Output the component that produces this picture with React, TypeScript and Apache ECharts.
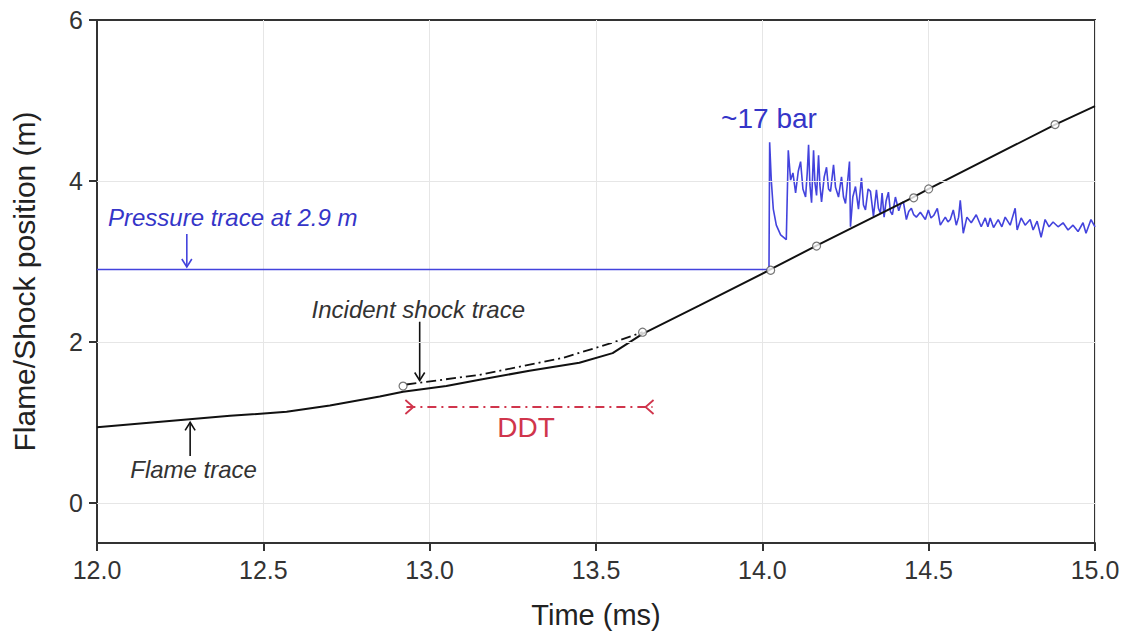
import React, { useEffect, useRef } from "react";
import * as echarts from "echarts";

const xTicks = [12.0, 12.5, 13.0, 13.5, 14.0, 14.5, 15.0];
const yTickValues = [0, 2, 4, 6];
const yGridValues = [0, 2, 4];

const flameTrace: number[][] = [
  [12.0, 0.94], [12.2, 1.01], [12.4, 1.08], [12.57, 1.13], [12.7, 1.21],
  [12.85, 1.32], [12.92, 1.38], [13.05, 1.45], [13.15, 1.53], [13.3, 1.64],
  [13.45, 1.74], [13.55, 1.86], [13.64, 2.1], [13.81, 2.45], [14.02, 2.89],
  [14.16, 3.19], [14.45, 3.79], [14.5, 3.9], [14.88, 4.7], [15.0, 4.93],
];

const shockTrace: number[][] = [
  [12.93, 1.47], [13.15, 1.59], [13.4, 1.8], [13.55, 1.99], [13.64, 2.12],
];

const sensorPoints: number[][] = [
  [12.92, 1.45], [13.64, 2.12], [14.025, 2.89], [14.163, 3.19],
  [14.455, 3.79], [14.5, 3.9], [14.88, 4.7],
];

const pressureTrace: number[][] = [
  [12.0, 2.9], [14.02, 2.9], [14.022, 4.48], [14.027, 4.0], [14.033, 3.65],
  [14.042, 3.45], [14.055, 3.33], [14.072, 3.27], [14.078, 4.38], [14.085, 4.01],
  [14.092, 4.1], [14.1, 3.85], [14.108, 4.12], [14.115, 4.24], [14.122, 3.9],
  [14.13, 3.8], [14.135, 4.1], [14.139, 4.45], [14.143, 3.95], [14.148, 3.73],
  [14.154, 4.38], [14.158, 3.98], [14.163, 3.82], [14.169, 4.32], [14.173, 3.95],
  [14.178, 3.74], [14.186, 4.05], [14.193, 4.17], [14.199, 3.9], [14.205, 3.87],
  [14.214, 4.2], [14.22, 3.92], [14.229, 3.8], [14.238, 4.05], [14.244, 3.8],
  [14.25, 3.72], [14.256, 3.98], [14.262, 4.24], [14.265, 3.43], [14.272, 3.8],
  [14.28, 3.93], [14.289, 3.65], [14.298, 4.04], [14.304, 3.7], [14.31, 3.64],
  [14.318, 3.9], [14.325, 3.87], [14.334, 3.56], [14.343, 3.89], [14.349, 3.66],
  [14.355, 3.6], [14.36, 3.85], [14.366, 3.55], [14.372, 3.75], [14.379, 3.86],
  [14.385, 3.62], [14.391, 3.58], [14.4, 3.8], [14.41, 3.63], [14.417, 3.72],
  [14.424, 3.74], [14.433, 3.52], [14.44, 3.62], [14.448, 3.66], [14.455, 3.58],
  [14.463, 3.55], [14.475, 3.61], [14.49, 3.52], [14.499, 3.64], [14.507, 3.54],
  [14.515, 3.57], [14.526, 3.66], [14.535, 3.45], [14.55, 3.55], [14.558, 3.49],
  [14.565, 3.52], [14.574, 3.64], [14.583, 3.45], [14.59, 3.55], [14.595, 3.76],
  [14.604, 3.35], [14.615, 3.55], [14.628, 3.48], [14.643, 3.58], [14.658, 3.43],
  [14.67, 3.54], [14.678, 3.43], [14.685, 3.54], [14.695, 3.42], [14.709, 3.52],
  [14.72, 3.43], [14.73, 3.55], [14.745, 3.45], [14.76, 3.66], [14.766, 3.39],
  [14.778, 3.54], [14.79, 3.45], [14.805, 3.52], [14.814, 3.39], [14.826, 3.5],
  [14.838, 3.3], [14.85, 3.52], [14.862, 3.43], [14.874, 3.49], [14.889, 3.43],
  [14.904, 3.48], [14.919, 3.39], [14.934, 3.45], [14.949, 3.37], [14.964, 3.48],
  [14.973, 3.35], [14.988, 3.52], [15.0, 3.43],
];

const ddtSpan = [12.93, 13.67];
const ddtLevel = 1.19;

const FONT = "'Liberation Sans', Arial, sans-serif";
const BLUE = "#4343dd";
const TEXT_BLUE = "#3535c8";
const RED = "#d0354c";

export default function App() {
  const ref = useRef<HTMLDivElement>(null);

  useEffect(() => {
    document.body.style.margin = "0";
    const chart = echarts.init(ref.current!, null, { renderer: "svg" });
    const option: any = {
      animation: false,
      backgroundColor: "#ffffff",
      grid: {
        left: 97,
        right: 31,
        top: 20,
        bottom: 93,
        show: true,
        borderColor: "#333",
        borderWidth: 2,
      },
      xAxis: {
        type: "value",
        min: 12,
        max: 15,
        interval: 0.5,
        name: "Time (ms)",
        nameLocation: "middle",
        nameGap: 57,
        nameTextStyle: { fontFamily: FONT, fontSize: 29, color: "#222" },
        axisLine: { show: true, onZero: false, lineStyle: { color: "#333", width: 2 } },
        axisTick: { show: true, inside: false, length: 8, lineStyle: { color: "#333", width: 2 } },
        axisLabel: {
          fontFamily: FONT,
          fontSize: 25,
          color: "#333",
          margin: 14,
          formatter: (v: number) => v.toFixed(1),
        },
        splitLine: { show: true, lineStyle: { color: "#e6e6e6", width: 1 } },
      },
      yAxis: {
        type: "value",
        min: -0.5,
        max: 6,
        name: "Flame/Shock position (m)",
        nameLocation: "middle",
        nameGap: 58,
        nameTextStyle: { fontFamily: FONT, fontSize: 30, color: "#222", padding: [0, 0, 0, 0] },
        axisLine: { show: true, onZero: false, lineStyle: { color: "#333", width: 2 } },
        axisTick: {
          show: true,
          length: 8,
          customValues: yTickValues,
          lineStyle: { color: "#333", width: 2 },
        },
        axisLabel: {
          fontFamily: FONT,
          fontSize: 25,
          color: "#333",
          margin: 14,
          customValues: yTickValues,
        },
        splitLine: { show: false },
      },
      series: [
        {
          type: "line",
          name: "grid",
          data: [],
          silent: true,
          markLine: {
            silent: true,
            symbol: "none",
            label: { show: false },
            lineStyle: { color: "#e6e6e6", width: 1, type: "solid" },
            data: yGridValues.map((v) => ({ yAxis: v })),
          },
        },
        {
          type: "line",
          name: "Pressure trace",
          data: pressureTrace,
          showSymbol: false,
          lineStyle: { color: BLUE, width: 1.6 },
          z: 3,
        },
        {
          type: "line",
          name: "Flame trace",
          data: flameTrace,
          showSymbol: false,
          lineStyle: { color: "#111", width: 2 },
          z: 4,
        },
        {
          type: "line",
          name: "Incident shock trace",
          data: shockTrace,
          showSymbol: false,
          lineStyle: { color: "#111", width: 1.8, type: [10, 4, 2, 4] },
          z: 4,
        },
        {
          type: "line",
          name: "DDT",
          data: ddtSpan.map((t) => [t, ddtLevel]),
          showSymbol: false,
          lineStyle: { color: RED, width: 1.8, type: [9, 5, 2, 5] },
          z: 4,
        },
        {
          type: "scatter",
          name: "Sensors",
          data: sensorPoints,
          symbol: "circle",
          symbolSize: 8,
          itemStyle: { color: "#fff", borderColor: "#555", borderWidth: 1.2 },
          z: 6,
        },
      ],
    };
    chart.setOption(option);

    const px = (t: number, v: number) => chart.convertToPixel({ gridIndex: 0 }, [t, v]) as number[];
    const arrowDown = (x: number, y1: number, y2: number, color: string) => [
      { type: "line", shape: { x1: x, y1, x2: x, y2 }, style: { stroke: color, lineWidth: 1.6 } },
      {
        type: "polyline",
        shape: { points: [[x - 5, y2 - 8], [x, y2], [x + 5, y2 - 8]] },
        style: { stroke: color, lineWidth: 1.6, fill: "none" },
      },
    ];
    const arrowUp = (x: number, y1: number, y2: number, color: string) => [
      { type: "line", shape: { x1: x, y1, x2: x, y2 }, style: { stroke: color, lineWidth: 1.6 } },
      {
        type: "polyline",
        shape: { points: [[x - 5, y2 + 8], [x, y2], [x + 5, y2 + 8]] },
        style: { stroke: color, lineWidth: 1.6, fill: "none" },
      },
    ];

    const pLabel = px(12.033, 3.54);
    const pArrowTop = px(12.27, 3.34);
    const pArrowBot = px(12.27, 2.93);
    const shockLabel = px(12.645, 2.4);
    const shockArrowTop = px(12.97, 2.25);
    const shockArrowBot = px(12.97, 1.52);
    const flameLabel = px(12.1, 0.41);
    const flameArrowBot = px(12.28, 0.58);
    const flameArrowTop = px(12.28, 1.0);
    const barLabel = px(14.02, 4.77);
    const ddtL = px(ddtSpan[0], ddtLevel);
    const ddtR = px(ddtSpan[1], ddtLevel);
    const ddtText = px((ddtSpan[0] + ddtSpan[1]) / 2 - 0.01, 0.93);

    const graphic: any[] = [
      {
        type: "text",
        x: pLabel[0],
        y: pLabel[1],
        style: {
          text: "Pressure trace at 2.9 m",
          font: `italic 24px ${FONT}`,
          fill: TEXT_BLUE,
          textAlign: "left",
          textVerticalAlign: "middle",
        },
      },
      ...arrowDown(pArrowTop[0], pArrowTop[1], pArrowBot[1], BLUE),
      {
        type: "text",
        x: shockLabel[0],
        y: shockLabel[1],
        style: {
          text: "Incident shock trace",
          font: `italic 24px ${FONT}`,
          fill: "#333",
          textAlign: "left",
          textVerticalAlign: "middle",
        },
      },
      ...arrowDown(shockArrowTop[0], shockArrowTop[1], shockArrowBot[1], "#111"),
      {
        type: "text",
        x: flameLabel[0],
        y: flameLabel[1],
        style: {
          text: "Flame trace",
          font: `italic 24px ${FONT}`,
          fill: "#333",
          textAlign: "left",
          textVerticalAlign: "middle",
        },
      },
      ...arrowUp(flameArrowBot[0], flameArrowBot[1], flameArrowTop[1], "#111"),
      {
        type: "text",
        x: barLabel[0],
        y: barLabel[1],
        style: {
          text: "~17 bar",
          font: `28px ${FONT}`,
          fill: TEXT_BLUE,
          textAlign: "center",
          textVerticalAlign: "middle",
        },
      },
      {
        type: "polyline",
        shape: { points: [[ddtL[0] - 1, ddtL[1] - 7], [ddtL[0] + 7, ddtL[1]], [ddtL[0] - 1, ddtL[1] + 7]] },
        style: { stroke: RED, lineWidth: 1.8, fill: "none" },
      },
      {
        type: "polyline",
        shape: { points: [[ddtR[0] + 1, ddtR[1] - 7], [ddtR[0] - 7, ddtR[1]], [ddtR[0] + 1, ddtR[1] + 7]] },
        style: { stroke: RED, lineWidth: 1.8, fill: "none" },
      },
      {
        type: "text",
        x: ddtText[0],
        y: ddtText[1],
        style: {
          text: "DDT",
          font: `28px ${FONT}`,
          fill: RED,
          textAlign: "center",
          textVerticalAlign: "middle",
        },
      },
    ];
    chart.setOption({ graphic });

    return () => chart.dispose();
  }, []);

  return <div ref={ref} style={{ width: 1126, height: 636 }} />;
}
